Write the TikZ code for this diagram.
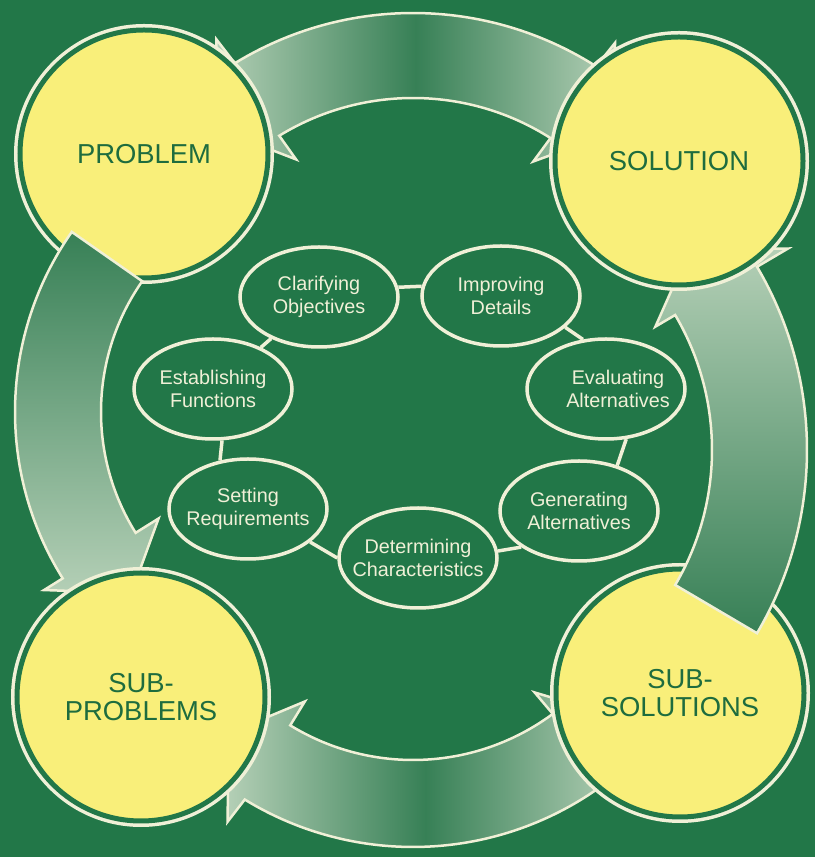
\documentclass[tikz,border=0pt]{standalone}
\usepackage{fontspec}
\setmainfont{Liberation Sans}
\usetikzlibrary{shapes.geometric}

\definecolor{board}{RGB}{34,119,72}
\definecolor{chalk}{RGB}{240,240,215}
\definecolor{sunny}{RGB}{249,239,122}
\definecolor{inkgreen}{RGB}{30,108,62}
\definecolor{tintdark}{RGB}{55,128,86}
\definecolor{tintlight}{RGB}{180,207,182}

\tikzset{
  disc/.style={circle, inner sep=0pt, minimum size=124pt, fill=sunny,
    draw=board, line width=2.5pt, preaction={draw=chalk, line width=6pt},
    text=inkgreen, align=center, font=\fontsize{13.7}{14}\selectfont},
  stage/.style={ellipse, draw=chalk, line width=1.75pt, inner sep=0pt,
    minimum width=79pt, minimum height=50pt},
  stagetext/.style={text=chalk, align=center, font=\fontsize{9.9}{11.5}\selectfont},
  link/.style={draw=chalk, line width=1.75pt},
  bigarrow/.style={draw=chalk, line width=1.25pt, line join=miter}
}

\begin{document}
\begin{tikzpicture}[x=0.5pt, y=0.5pt]
  \useasboundingbox (0,0) rectangle (815,857);
  \fill[board] (0,0) rectangle (815,857);

  % top and bottom arrows, both ends go under the discs
  \begin{scope}[shift={(413,503)}]
    \draw[bigarrow, left color=tintlight, right color=tintlight, middle color=tintdark]
      (131:298) -- (122:371) -- (121.5:341) arc[start angle=121.5, end angle=57.5, radius=341]
      -- (57:371) -- (48:298) -- (58:227) -- (57.5:256) arc[start angle=57.5, end angle=121.5, radius=256]
      -- (121:227) -- cycle;
  \end{scope}
  \begin{scope}[shift={(413,332)}]
    \draw[bigarrow, left color=tintlight, right color=tintlight, middle color=tintdark]
      (228.5:278) -- (238:350) -- (238.5:322) arc[start angle=238.5, end angle=306.5, radius=322]
      -- (307:350) -- (316.5:278) -- (306:207) -- (306.5:235) arc[start angle=306.5, end angle=238.5, radius=235]
      -- (238.5:207) -- cycle;
  \end{scope}

  \node[disc] (prob) at (144,703) {PROBLEM};
  \node[disc] (subs) at (680,164) {SUB-\\SOLUTIONS};

  % side arrows start on top of a disc
  \begin{scope}[shift={(329,445)}]
    \draw[bigarrow, top color=tintdark, bottom color=tintlight]
      (145:314) arc[start angle=145, end angle=212, radius=314]
      -- (212:336) -- (222.5:268) -- (212:201) -- (212:228)
      arc[start angle=212, end angle=145, radius=228] -- cycle;
  \end{scope}
  \begin{scope}[shift={(446,407)}]
    \draw[bigarrow, top color=tintlight, bottom color=tintdark]
      (-30.5:361) arc[start angle=-30.5, end angle=30.5, radius=361]
      -- (30.5:397) -- (39.5:316) -- (30.5:243) -- (30.5:266)
      arc[start angle=30.5, end angle=-30.5, radius=266] -- cycle;
  \end{scope}

  \node[disc] (sol)  at (679,696) {SOLUTION};
  \node[disc] (subp) at (141,160) {SUB-\\PROBLEMS};

  % the design cycle
  \node[stage, label={[stagetext]center:Clarifying\\Objectives}]    (clar) at (319,560) {};
  \node[stage, label={[stagetext]center:Improving\\Details}]        (impr) at (501,561) {};
  \node[stage, label={[stagetext, xshift=6pt]center:Evaluating\\Alternatives}] (eval) at (606,468) {};
  \node[stage, label={[stagetext]center:Generating\\Alternatives}]  (gene) at (579,346) {};
  \node[stage, label={[stagetext]center:Determining\\Characteristics}] (dete) at (418,299) {};
  \node[stage, label={[stagetext]center:Setting\\Requirements}]     (sett) at (248,348) {};
  \node[stage, label={[stagetext]center:Establishing\\Functions}]   (estb) at (213,468) {};

  \draw[link]
      (clar.7)   edge (impr.173)
      (impr.-26) edge (eval.115)
      (eval.-68) edge (gene.50)
      (gene.212) edge (dete.5)
      (dete.180) edge (sett.-28)
      (sett.120) edge (estb.-80)
      (estb)     edge (clar);
\end{tikzpicture}
\end{document}
